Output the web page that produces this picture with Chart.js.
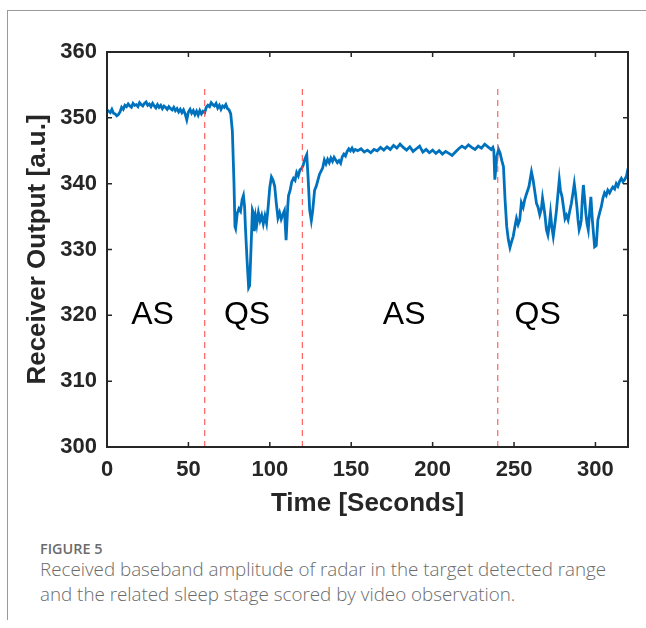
<!DOCTYPE html>
<html>
<head>
<meta charset="utf-8">
<script src="https://cdn.jsdelivr.net/npm/chart.js@4"></script>
<style>
  html, body { margin: 0; padding: 0; background: #fff; }
  body { width: 646px; height: 628px; position: relative; overflow: hidden; }
  #frame { position: absolute; left: 7px; top: 10px; width: 639px; height: 610px;
           border-top: 1.5px solid #9a9a9a; border-left: 1.5px solid #9a9a9a; box-sizing: border-box; }
  #wrap { position: absolute; left: 0; top: 0; width: 646px; height: 530px; }
  .cap { position: absolute; left: 40px; font-family: "Open Sans", "Noto Sans", sans-serif; color: #6b6b6b; }
  #figno { top: 541px; font-size: 14.4px; line-height: 16px; font-weight: 600; }
  #figtxt { top: 557px; font-size: 18.8px; line-height: 25px; width: 606px; font-weight: 300; }
</style>
</head>
<body>
<div id="frame"></div>
<div id="wrap"><canvas id="grafica"></canvas></div>
<div id="figno" class="cap">FIGURE 5</div>
<div id="figtxt" class="cap">Received baseband amplitude of radar in the target detected range<br>and the related sleep stage scored by video observation.</div>
<script>
// datos
var tiempo = [
  0,1,2,3,4,5,6,7,8,9,10,11,12,13,14,15,16,17,18,19,20,21,22,23,24,25,26,27,28,29,
  30,31,32,33,34,35,36,37,38,39,40,41,42,43,44,45,46,47,48,49,50,51,52,53,54,55,56,57,58,59,
  60,61,62,63,64,65,66,67,68,69,70,71,72,73,74,75,76,77,78,78.6,79,80,81,82,83,83.8,84.5,85,86,87,87.6,88.5,89.3,90,90.5,91.3,
  92,93,94,95,96,97,98,99,100,101,102,103,104,105,106,107,108,109,110,111,111.5,112.5,113.5,114.5,115.5,116.5,117.5,118.5,119.5,120.5,
  121.5,122.7,123.5,124.5,125.5,126.3,127.5,128.5,129.5,130.5,131.5,132.5,133.5,134.5,135.5,136.5,137.5,138.5,139.5,140.5,
  141.5,142.5,143.5,144.5,145.5,146.5,147.5,148.5,149.5,150.5,151.5,152.5,154,156,158,160,162,164,166,168,
  170,172,174,176,178,180,182,184,186,188,190,192,194,196,198,200,202,204,206,208,
  210,212,214,216,218,220,222,224,226,228,230,232,234,236,237,237.6,238.2,239.5,240.5,241.5,
  242.5,243.5,244.5,245.5,246.5,247.5,248.5,249.5,250.5,251.5,252.5,253.5,254.5,255.6,256.5,257.6,259.2,260.7,261.7,262.7,
  263.8,264.8,265.8,266.8,267.5,268.3,269.1,269.9,270.8,271.6,272.4,273.2,274.1,275,276,277,277.8,278.5,279.5,280.5,
  281.3,282.2,283.2,284.2,285.2,286.2,287,287.8,288.6,289.3,290,290.7,291.3,291.9,292.6,293.4,294.1,294.8,295.6,296.4,
  297.2,298.1,299.5,300.5,301.5,302.6,303.6,304.6,305.6,306.6,307.6,308.7,309.7,310.7,311.8,312.8,313.8,314.9,315.9,316.9,
  317.9,319,320
];
var salida = [
  351.2,351.0,350.8,351.3,350.7,350.6,350.3,350.5,350.9,351.6,351.3,351.9,351.7,352.1,351.8,351.6,352.2,351.9,352.0,351.7,
  352.3,352.0,351.8,352.2,352.4,351.9,352.1,351.7,352.2,351.8,
  351.5,352.0,351.6,351.9,351.4,351.8,351.6,351.3,351.7,351.4,351.2,351.6,351.1,351.4,350.9,351.3,350.8,351.2,350.6,349.7,
  350.9,351.3,350.7,351.1,350.5,351.0,350.4,351.1,350.6,351.0,
  350.8,351.6,351.9,351.7,352.3,352.0,351.8,352.2,351.5,351.9,351.3,351.8,351.6,352.0,351.4,351.2,350.6,348.0,340.0,333.5,
  333.2,335.5,336.2,335.8,337.6,338.2,336.5,333.5,328.5,324.2,324.5,330.5,336.0,335.5,332.8,334.9,
  333.8,335.6,334.4,335.2,333.9,335.1,334.0,336.5,339.5,341.0,340.5,339.6,337.0,334.8,335.6,334.6,335.3,335.9,331.4,336.5,
  338.2,339.0,340.3,340.8,340.5,341.7,341.2,342.1,342.3,342.8,
  343.7,344.4,341.0,336.0,334.4,335.8,339.0,339.6,340.5,341.4,341.9,342.4,343.6,343.0,343.7,343.2,343.9,343.4,344.0,343.6,
  343.2,343.5,343.1,344.1,344.5,344.2,344.9,345.3,345.0,345.4,344.9,345.2,345.0,345.3,344.8,345.1,344.7,345.2,345.0,345.5,
  345.1,345.6,345.2,345.8,345.4,346.0,345.5,345.1,345.6,344.9,345.3,345.7,344.8,345.2,344.7,345.1,344.6,345.0,344.5,344.9,
  344.6,344.3,344.8,345.3,345.7,345.4,345.9,345.5,345.2,345.7,345.4,346.0,345.6,345.2,345.5,345.0,340.6,344.2,345.2,344.6,
  343.5,342.6,337.5,333.5,331.5,330.3,331.2,332.0,333.4,334.7,333.8,334.5,337.1,336.4,337.5,338.4,339.6,341.8,340.6,338.9,
  337.0,336.4,335.3,336.2,337.8,336.5,335.0,333.0,332.2,333.6,335.5,333.5,332.0,333.7,335.8,338.5,340.6,339.0,338.0,336.2,
  334.7,335.2,334.5,335.8,337.0,338.6,340.0,338.4,336.5,334.5,333.0,333.6,334.5,337.5,339.8,337.6,335.5,334.0,333.0,335.6,
  338.0,334.5,330.4,330.6,334.5,335.6,336.5,337.8,338.6,338.2,339.0,338.6,339.1,339.5,339.2,340.0,339.6,340.4,340.8,340.3,
  340.6,341.1,342.3,342.5
];
var cambiosEtapa = [60, 120, 240];
var etiquetasEtapa = ['AS', 'QS', 'AS', 'QS'];
var posicionEtapa = [28, 86, 182.5, 264.5];
var nivelEtiqueta = 320;
var ticksX = [0, 50, 100, 150, 200, 250, 300];
var ticksY = [300, 310, 320, 330, 340, 350, 360];

var fuenteEjes = '"Liberation Sans", Arial, sans-serif';
var colorEjes = '#262626';

// lineas discontinuas de cambio de etapa
var datasets = cambiosEtapa.map(function(t) {
    return {
        data: [{x: t, y: 300}, {x: t, y: 355}],
        borderColor: 'rgba(255, 70, 70, 0.85)',
        borderWidth: 1.2,
        borderDash: [6, 5],
        pointRadius: 0,
        order: 0
    };
});
datasets.push({
    data: tiempo.map(function(t, i) { return {x: t, y: salida[i]}; }),
    borderColor: '#0072BD',
    borderWidth: 2.8,
    pointRadius: 0,
    tension: 0,
    order: 1
});

// caja, marcas interiores y etiquetas AS/QS
var marcoPlugin = {
    id: 'marco',
    afterDatasetsDraw: function(chart) {
        var ctx = chart.ctx, sx = chart.scales.x, sy = chart.scales.y;
        ctx.save();
        ctx.fillStyle = '#000';
        ctx.font = '32px ' + fuenteEjes;
        ctx.textAlign = 'center';
        ctx.textBaseline = 'middle';
        etiquetasEtapa.forEach(function(txt, i) {
            ctx.fillText(txt, sx.getPixelForValue(posicionEtapa[i]), sy.getPixelForValue(nivelEtiqueta));
        });
        ctx.restore();
    },
    afterDraw: function(chart) {
        var ctx = chart.ctx, a = chart.chartArea, sx = chart.scales.x, sy = chart.scales.y;
        ctx.save();
        ctx.strokeStyle = colorEjes;
        ctx.lineWidth = 1.5;
        ticksX.forEach(function(v) {
            var px = sx.getPixelForValue(v);
            ctx.beginPath();
            ctx.moveTo(px, a.bottom); ctx.lineTo(px, a.bottom - 5);
            ctx.moveTo(px, a.top); ctx.lineTo(px, a.top + 5);
            ctx.stroke();
        });
        ticksY.forEach(function(v) {
            var py = sy.getPixelForValue(v);
            ctx.beginPath();
            ctx.moveTo(a.left, py); ctx.lineTo(a.left + 5, py);
            ctx.moveTo(a.right, py); ctx.lineTo(a.right - 5, py);
            ctx.stroke();
        });
        ctx.lineWidth = 2;
        ctx.strokeRect(a.left, a.top, a.right - a.left, a.bottom - a.top);
        ctx.restore();
    }
};

var ctx = document.getElementById('grafica').getContext('2d');
new Chart(ctx, {
    type: 'line',
    data: { datasets: datasets },
    options: {
        responsive: true,
        maintainAspectRatio: false,
        animation: false,
        events: [],
        layout: { padding: { left: 0, right: 18, top: 52, bottom: 0 } },
        plugins: { legend: { display: false }, tooltip: { enabled: false } },
        scales: {
            x: {
                type: 'linear',
                min: 0,
                max: 320,
                afterFit: function(scale) { scale.height = 83; },
                grid: { display: false, drawTicks: false },
                border: { display: false },
                ticks: {
                    stepSize: 50,
                    includeBounds: false,
                    padding: 10,
                    maxRotation: 0,
                    color: colorEjes,
                    font: { family: fuenteEjes, size: 22, weight: 'bold' }
                },
                title: {
                    display: true,
                    text: 'Time [Seconds]',
                    color: colorEjes,
                    padding: { top: 0, bottom: 11 },
                    font: { family: fuenteEjes, size: 26, weight: 'bold' }
                }
            },
            y: {
                min: 300,
                max: 360,
                afterFit: function(scale) { scale.width = 107; },
                grid: { display: false, drawTicks: false },
                border: { display: false },
                ticks: {
                    stepSize: 10,
                    padding: 10,
                    color: colorEjes,
                    font: { family: fuenteEjes, size: 22, weight: 'bold' }
                },
                title: {
                    display: true,
                    text: 'Receiver Output [a.u.]',
                    color: colorEjes,
                    padding: { top: 22, bottom: 0 },
                    font: { family: fuenteEjes, size: 26, weight: 'bold' }
                }
            }
        }
    },
    plugins: [marcoPlugin]
});
</script>
</body>
</html>
